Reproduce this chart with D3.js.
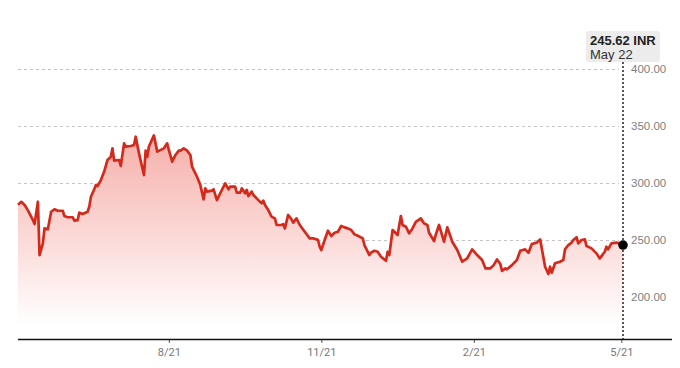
<!DOCTYPE html>
<html><head><meta charset="utf-8">
<script src="https://cdn.jsdelivr.net/npm/d3@7"></script>
<style>body{margin:0;background:#fff}svg{display:block}</style>
</head><body><svg id="c" width="680" height="368"></svg>
<script>
const dates = [
"2021-05-22","2021-05-24","2021-05-26","2021-05-28","2021-05-31","2021-06-01","2021-06-03","2021-06-04","2021-06-06","2021-06-07",
"2021-06-09","2021-06-11","2021-06-13","2021-06-15","2021-06-18","2021-06-19","2021-06-21","2021-06-24","2021-06-25","2021-06-27",
"2021-06-28","2021-06-30","2021-07-03","2021-07-04","2021-07-05","2021-07-07","2021-07-08","2021-07-09","2021-07-11","2021-07-13",
"2021-07-15","2021-07-17","2021-07-18","2021-07-19","2021-07-22","2021-07-23","2021-07-25","2021-07-26","2021-07-29","2021-07-31",
"2021-08-01","2021-08-03","2021-08-06","2021-08-07","2021-08-08","2021-08-09","2021-08-12","2021-08-14","2021-08-18","2021-08-20",
"2021-08-21","2021-08-23","2021-08-25","2021-08-27","2021-08-28","2021-08-30","2021-09-01","2021-09-03","2021-09-04","2021-09-07",
"2021-09-09","2021-09-11","2021-09-12","2021-09-13","2021-09-16","2021-09-17","2021-09-19","2021-09-21","2021-09-24","2021-09-26",
"2021-09-27","2021-09-30","2021-10-01","2021-10-03","2021-10-04","2021-10-06","2021-10-07","2021-10-08","2021-10-10","2021-10-11",
"2021-10-14","2021-10-16","2021-10-17","2021-10-18","2021-10-20","2021-10-22","2021-10-24","2021-10-25","2021-10-28","2021-10-29",
"2021-10-30","2021-11-01","2021-11-03","2021-11-04","2021-11-06","2021-11-08","2021-11-11","2021-11-14","2021-11-16","2021-11-18",
"2021-11-19","2021-11-20","2021-11-21","2021-11-23","2021-11-25","2021-11-27","2021-11-29","2021-12-01","2021-12-03","2021-12-05",
"2021-12-07","2021-12-09","2021-12-11","2021-12-13","2021-12-16","2021-12-17","2021-12-20","2021-12-21","2021-12-23","2021-12-25",
"2021-12-27","2021-12-30","2021-12-31","2022-01-01","2022-01-03","2022-01-06","2022-01-08","2022-01-09","2022-01-11","2022-01-13",
"2022-01-15","2022-01-17","2022-01-20","2022-01-22","2022-01-24","2022-01-25","2022-01-28","2022-01-29","2022-01-31","2022-02-03",
"2022-02-05","2022-02-08","2022-02-11","2022-02-14","2022-02-17","2022-02-20","2022-02-23","2022-02-26","2022-02-28","2022-03-03",
"2022-03-05","2022-03-07","2022-03-09","2022-03-10","2022-03-12","2022-03-13","2022-03-16","2022-03-19","2022-03-21","2022-03-24",
"2022-03-26","2022-03-28","2022-03-31","2022-04-02","2022-04-05","2022-04-07","2022-04-08","2022-04-09","2022-04-11","2022-04-14",
"2022-04-16","2022-04-17","2022-04-19","2022-04-21","2022-04-22","2022-04-24","2022-04-25","2022-04-27","2022-04-29","2022-04-30",
"2022-05-03","2022-05-06","2022-05-08","2022-05-11","2022-05-12","2022-05-13","2022-05-15","2022-05-18","2022-05-20","2022-05-22"];
const prices = [
281,283.5,280.7,276,267.5,264,283.6,236.8,247,260.2,
259.4,274.8,277,275.7,275.7,271,270,270,267,267.5,
274,272.8,274.8,279.2,288,294.5,298.2,297.4,302.6,310,
320.2,323,330.4,319.6,320.2,315,334.8,331.9,332.5,333.3,
340.6,326,307,328.4,323,332,341.8,327.5,330.4,334.8,
329,318.7,324.6,328.4,328.4,330.4,328.4,324.6,314.3,305.5,
298.2,285.7,295.3,292.4,293.3,294.5,285,291,299.7,294.5,
296.8,296.8,291.5,291.5,295.3,291,293.9,288.6,292.4,289.5,
285,282.2,284.5,280.7,276.3,270.4,269,263.2,263.2,264,
260.2,272,268.2,265.2,269,263.2,257.3,251.5,251.5,250.6,
250,244.1,241.2,250,258.2,253.5,256.4,257.3,262.3,261.1,
260.2,258.8,255,253.8,251.5,245.6,236.8,238.9,240.6,239.7,
235.4,231.8,239.7,236.8,258.8,254.4,271,263.2,261.7,255.9,
260.2,266,269,264.6,263.2,256.4,249.1,254.4,263.2,248.5,
261.1,248.5,241.2,231,234,241.8,236.8,232.5,225.2,225.2,
228,233,228.9,223,225.2,224.3,228,232.5,240.6,241.8,
238.9,246.5,247.7,250.6,226.6,220.2,226.6,221.3,229.6,231,
232.5,241.8,245.6,247.7,250,252.4,247.1,250,250.6,244.7,
242.7,238.3,233.9,239.7,244.1,241.8,247.1,247.7,247.1,245.62];
const yTicks = [200, 250, 300, 350, 400];
const xTickDates = ["2021-08-21", "2021-11-21", "2022-02-21", "2022-05-21"];
const xTickLabels = ["8/21", "11/21", "2/21", "5/21"];
const domainDates = ["2021-05-22", "2022-05-22"];
const lastPriceLabel = "245.62 INR";
const lastDateLabel = "May 22";

const parse = d3.timeParse("%Y-%m-%d");
const data = dates.map((d, i) => ({date: parse(d), value: prices[i]}));

const svg = d3.select("#c");
const x = d3.scaleTime().domain(domainDates.map(parse)).range([18, 623]);
const y = d3.scaleLinear().domain([163.2, 400]).range([339, 69]);

// gradient
const defs = svg.append("defs");
const grad = defs.append("linearGradient").attr("id", "g")
  .attr("gradientUnits", "userSpaceOnUse").attr("x1", 0).attr("x2", 0)
  .attr("y1", y(345)).attr("y2", y(175));
grad.append("stop").attr("offset", 0).attr("stop-color", "#f5aea9");
grad.append("stop").attr("offset", 0.55).attr("stop-color", "#fbdad8");
grad.append("stop").attr("offset", 1).attr("stop-color", "#ffffff");

// gridlines
svg.append("g").selectAll("line").data(yTicks).join("line")
  .attr("x1", 18).attr("x2", 619)
  .attr("y1", d => Math.round(y(d)) + 0.5).attr("y2", d => Math.round(y(d)) + 0.5)
  .attr("stroke", "#c4c4c4").attr("stroke-width", 1).attr("stroke-dasharray", "3,3");

// area
const area = d3.area().x(d => x(d.date)).y0(y(163.2)).y1(d => y(d.value));
svg.append("path").datum(data).attr("d", area).attr("fill", "url(#g)");

// line
const line = d3.line().x(d => x(d.date)).y(d => y(d.value));
svg.append("path").datum(data).attr("d", line).attr("fill", "none")
  .attr("stroke", "#d42a1c").attr("stroke-width", 2.7).attr("stroke-linejoin", "round");

// y labels
svg.append("g").selectAll("text").data(yTicks).join("text")
  .attr("x", 631).attr("y", d => y(d)).attr("dy", "0.35em")
  .attr("font-family", "Liberation Sans, Arial, sans-serif").attr("font-size", 11.5)
  .attr("fill", "#808080").text(d => d3.format(".2f")(d));

// x axis
const xAxis = d3.axisBottom(x).tickValues(xTickDates.map(parse))
  .tickFormat((d, i) => xTickLabels[i]).tickSize(4).tickPadding(5);
const gx = svg.append("g").attr("transform", "translate(0,339)").call(xAxis);
gx.select(".domain").remove();
gx.selectAll(".tick line").attr("stroke", "#555");
gx.selectAll(".tick text").attr("font-family", "Liberation Sans Narrow, Roboto, Arial, sans-serif")
  .attr("font-size", 11).attr("fill", "#777");
svg.append("line").attr("x1", 18).attr("x2", 672).attr("y1", 339.5).attr("y2", 339.5)
  .attr("stroke", "#111").attr("stroke-width", 1.3);

// vertical dotted marker
const last = data[data.length - 1];
svg.append("line").attr("x1", x(last.date)).attr("x2", x(last.date))
  .attr("y1", 62).attr("y2", 339)
  .attr("stroke", "#111").attr("stroke-width", 1.4).attr("stroke-dasharray", "2,2");
svg.append("circle").attr("cx", x(last.date)).attr("cy", y(last.value)).attr("r", 4.8).attr("fill", "#000");

// tooltip
svg.append("rect").attr("x", 586).attr("y", 31).attr("width", 74).attr("height", 31)
  .attr("rx", 3).attr("fill", "#ececec");
svg.append("text").attr("x", 590).attr("y", 44.5).attr("font-family", "Liberation Sans, Arial, sans-serif")
  .attr("font-size", 13).attr("font-weight", "bold").attr("fill", "#222").text(lastPriceLabel);
svg.append("text").attr("x", 590).attr("y", 58.5).attr("font-family", "Liberation Sans, Arial, sans-serif")
  .attr("font-size", 13).attr("fill", "#333").text(lastDateLabel);
</script>
</body></html>
